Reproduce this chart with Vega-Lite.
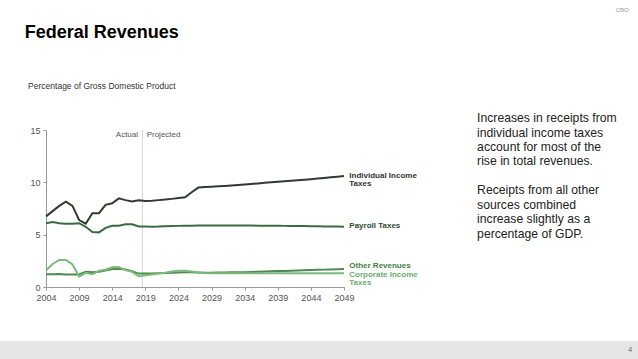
{
  "$schema": "https://vega.github.io/schema/vega-lite/v6.json",
  "width": 298,
  "height": 157,
  "autosize": {"type": "none"},
  "padding": {"left": 46, "top": 130, "right": 294, "bottom": 72},
  "background": "white",
  "config": {
    "view": {"stroke": null},
    "font": "Liberation Sans",
    "axisX": {"labelOverlap": false, "labelFlush": false},
    "axis": {"grid": false}
  },
  "datasets": {
    "rev": [
      {"year": 2004, "series": "Individual Income Taxes", "value": 6.75},
      {"year": 2005, "series": "Individual Income Taxes", "value": 7.25},
      {"year": 2006, "series": "Individual Income Taxes", "value": 7.75},
      {"year": 2007, "series": "Individual Income Taxes", "value": 8.15},
      {"year": 2008, "series": "Individual Income Taxes", "value": 7.75},
      {"year": 2009, "series": "Individual Income Taxes", "value": 6.4},
      {"year": 2010, "series": "Individual Income Taxes", "value": 6.05},
      {"year": 2011, "series": "Individual Income Taxes", "value": 7.05},
      {"year": 2012, "series": "Individual Income Taxes", "value": 7.05},
      {"year": 2013, "series": "Individual Income Taxes", "value": 7.85},
      {"year": 2014, "series": "Individual Income Taxes", "value": 8.0},
      {"year": 2015, "series": "Individual Income Taxes", "value": 8.47},
      {"year": 2016, "series": "Individual Income Taxes", "value": 8.3},
      {"year": 2017, "series": "Individual Income Taxes", "value": 8.18},
      {"year": 2018, "series": "Individual Income Taxes", "value": 8.28},
      {"year": 2019, "series": "Individual Income Taxes", "value": 8.22},
      {"year": 2020, "series": "Individual Income Taxes", "value": 8.25},
      {"year": 2021, "series": "Individual Income Taxes", "value": 8.3},
      {"year": 2022, "series": "Individual Income Taxes", "value": 8.35},
      {"year": 2023, "series": "Individual Income Taxes", "value": 8.42},
      {"year": 2024, "series": "Individual Income Taxes", "value": 8.5},
      {"year": 2025, "series": "Individual Income Taxes", "value": 8.57},
      {"year": 2026, "series": "Individual Income Taxes", "value": 9.05},
      {"year": 2027, "series": "Individual Income Taxes", "value": 9.5},
      {"year": 2028, "series": "Individual Income Taxes", "value": 9.55},
      {"year": 2029, "series": "Individual Income Taxes", "value": 9.58},
      {"year": 2030, "series": "Individual Income Taxes", "value": 9.62},
      {"year": 2031, "series": "Individual Income Taxes", "value": 9.66},
      {"year": 2032, "series": "Individual Income Taxes", "value": 9.7},
      {"year": 2033, "series": "Individual Income Taxes", "value": 9.75},
      {"year": 2034, "series": "Individual Income Taxes", "value": 9.8},
      {"year": 2035, "series": "Individual Income Taxes", "value": 9.85},
      {"year": 2036, "series": "Individual Income Taxes", "value": 9.9},
      {"year": 2037, "series": "Individual Income Taxes", "value": 9.95},
      {"year": 2038, "series": "Individual Income Taxes", "value": 10.0},
      {"year": 2039, "series": "Individual Income Taxes", "value": 10.05},
      {"year": 2040, "series": "Individual Income Taxes", "value": 10.1},
      {"year": 2041, "series": "Individual Income Taxes", "value": 10.15},
      {"year": 2042, "series": "Individual Income Taxes", "value": 10.2},
      {"year": 2043, "series": "Individual Income Taxes", "value": 10.25},
      {"year": 2044, "series": "Individual Income Taxes", "value": 10.3},
      {"year": 2045, "series": "Individual Income Taxes", "value": 10.36},
      {"year": 2046, "series": "Individual Income Taxes", "value": 10.42},
      {"year": 2047, "series": "Individual Income Taxes", "value": 10.48},
      {"year": 2048, "series": "Individual Income Taxes", "value": 10.54},
      {"year": 2049, "series": "Individual Income Taxes", "value": 10.6},

      {"year": 2004, "series": "Payroll Taxes", "value": 6.1},
      {"year": 2005, "series": "Payroll Taxes", "value": 6.2},
      {"year": 2006, "series": "Payroll Taxes", "value": 6.1},
      {"year": 2007, "series": "Payroll Taxes", "value": 6.05},
      {"year": 2008, "series": "Payroll Taxes", "value": 6.05},
      {"year": 2009, "series": "Payroll Taxes", "value": 6.1},
      {"year": 2010, "series": "Payroll Taxes", "value": 5.75},
      {"year": 2011, "series": "Payroll Taxes", "value": 5.25},
      {"year": 2012, "series": "Payroll Taxes", "value": 5.22},
      {"year": 2013, "series": "Payroll Taxes", "value": 5.65},
      {"year": 2014, "series": "Payroll Taxes", "value": 5.85},
      {"year": 2015, "series": "Payroll Taxes", "value": 5.85},
      {"year": 2016, "series": "Payroll Taxes", "value": 6.0},
      {"year": 2017, "series": "Payroll Taxes", "value": 6.0},
      {"year": 2018, "series": "Payroll Taxes", "value": 5.78},
      {"year": 2019, "series": "Payroll Taxes", "value": 5.77},
      {"year": 2020, "series": "Payroll Taxes", "value": 5.76},
      {"year": 2021, "series": "Payroll Taxes", "value": 5.77},
      {"year": 2022, "series": "Payroll Taxes", "value": 5.8},
      {"year": 2023, "series": "Payroll Taxes", "value": 5.82},
      {"year": 2024, "series": "Payroll Taxes", "value": 5.84},
      {"year": 2025, "series": "Payroll Taxes", "value": 5.85},
      {"year": 2026, "series": "Payroll Taxes", "value": 5.86},
      {"year": 2027, "series": "Payroll Taxes", "value": 5.87},
      {"year": 2028, "series": "Payroll Taxes", "value": 5.87},
      {"year": 2029, "series": "Payroll Taxes", "value": 5.88},
      {"year": 2030, "series": "Payroll Taxes", "value": 5.88},
      {"year": 2031, "series": "Payroll Taxes", "value": 5.88},
      {"year": 2032, "series": "Payroll Taxes", "value": 5.88},
      {"year": 2033, "series": "Payroll Taxes", "value": 5.88},
      {"year": 2034, "series": "Payroll Taxes", "value": 5.87},
      {"year": 2035, "series": "Payroll Taxes", "value": 5.87},
      {"year": 2036, "series": "Payroll Taxes", "value": 5.86},
      {"year": 2037, "series": "Payroll Taxes", "value": 5.86},
      {"year": 2038, "series": "Payroll Taxes", "value": 5.85},
      {"year": 2039, "series": "Payroll Taxes", "value": 5.85},
      {"year": 2040, "series": "Payroll Taxes", "value": 5.84},
      {"year": 2041, "series": "Payroll Taxes", "value": 5.83},
      {"year": 2042, "series": "Payroll Taxes", "value": 5.83},
      {"year": 2043, "series": "Payroll Taxes", "value": 5.82},
      {"year": 2044, "series": "Payroll Taxes", "value": 5.81},
      {"year": 2045, "series": "Payroll Taxes", "value": 5.8},
      {"year": 2046, "series": "Payroll Taxes", "value": 5.79},
      {"year": 2047, "series": "Payroll Taxes", "value": 5.78},
      {"year": 2048, "series": "Payroll Taxes", "value": 5.77},
      {"year": 2049, "series": "Payroll Taxes", "value": 5.76},

      {"year": 2004, "series": "Other Revenues", "value": 1.22},
      {"year": 2005, "series": "Other Revenues", "value": 1.22},
      {"year": 2006, "series": "Other Revenues", "value": 1.25},
      {"year": 2007, "series": "Other Revenues", "value": 1.2},
      {"year": 2008, "series": "Other Revenues", "value": 1.2},
      {"year": 2009, "series": "Other Revenues", "value": 1.2},
      {"year": 2010, "series": "Other Revenues", "value": 1.45},
      {"year": 2011, "series": "Other Revenues", "value": 1.4},
      {"year": 2012, "series": "Other Revenues", "value": 1.45},
      {"year": 2013, "series": "Other Revenues", "value": 1.58},
      {"year": 2014, "series": "Other Revenues", "value": 1.72},
      {"year": 2015, "series": "Other Revenues", "value": 1.75},
      {"year": 2016, "series": "Other Revenues", "value": 1.68},
      {"year": 2017, "series": "Other Revenues", "value": 1.5},
      {"year": 2018, "series": "Other Revenues", "value": 1.28},
      {"year": 2019, "series": "Other Revenues", "value": 1.3},
      {"year": 2020, "series": "Other Revenues", "value": 1.3},
      {"year": 2021, "series": "Other Revenues", "value": 1.32},
      {"year": 2022, "series": "Other Revenues", "value": 1.33},
      {"year": 2023, "series": "Other Revenues", "value": 1.35},
      {"year": 2024, "series": "Other Revenues", "value": 1.38},
      {"year": 2025, "series": "Other Revenues", "value": 1.4},
      {"year": 2026, "series": "Other Revenues", "value": 1.4},
      {"year": 2027, "series": "Other Revenues", "value": 1.38},
      {"year": 2028, "series": "Other Revenues", "value": 1.37},
      {"year": 2029, "series": "Other Revenues", "value": 1.37},
      {"year": 2030, "series": "Other Revenues", "value": 1.38},
      {"year": 2031, "series": "Other Revenues", "value": 1.39},
      {"year": 2032, "series": "Other Revenues", "value": 1.4},
      {"year": 2033, "series": "Other Revenues", "value": 1.41},
      {"year": 2034, "series": "Other Revenues", "value": 1.42},
      {"year": 2035, "series": "Other Revenues", "value": 1.44},
      {"year": 2036, "series": "Other Revenues", "value": 1.46},
      {"year": 2037, "series": "Other Revenues", "value": 1.48},
      {"year": 2038, "series": "Other Revenues", "value": 1.5},
      {"year": 2039, "series": "Other Revenues", "value": 1.52},
      {"year": 2040, "series": "Other Revenues", "value": 1.54},
      {"year": 2041, "series": "Other Revenues", "value": 1.56},
      {"year": 2042, "series": "Other Revenues", "value": 1.58},
      {"year": 2043, "series": "Other Revenues", "value": 1.6},
      {"year": 2044, "series": "Other Revenues", "value": 1.62},
      {"year": 2045, "series": "Other Revenues", "value": 1.64},
      {"year": 2046, "series": "Other Revenues", "value": 1.66},
      {"year": 2047, "series": "Other Revenues", "value": 1.68},
      {"year": 2048, "series": "Other Revenues", "value": 1.7},
      {"year": 2049, "series": "Other Revenues", "value": 1.72},

      {"year": 2004, "series": "Corporate Income Taxes", "value": 1.6},
      {"year": 2005, "series": "Corporate Income Taxes", "value": 2.2},
      {"year": 2006, "series": "Corporate Income Taxes", "value": 2.58},
      {"year": 2007, "series": "Corporate Income Taxes", "value": 2.58},
      {"year": 2008, "series": "Corporate Income Taxes", "value": 2.15},
      {"year": 2009, "series": "Corporate Income Taxes", "value": 1.0},
      {"year": 2010, "series": "Corporate Income Taxes", "value": 1.35},
      {"year": 2011, "series": "Corporate Income Taxes", "value": 1.22},
      {"year": 2012, "series": "Corporate Income Taxes", "value": 1.55},
      {"year": 2013, "series": "Corporate Income Taxes", "value": 1.65},
      {"year": 2014, "series": "Corporate Income Taxes", "value": 1.88},
      {"year": 2015, "series": "Corporate Income Taxes", "value": 1.9},
      {"year": 2016, "series": "Corporate Income Taxes", "value": 1.62},
      {"year": 2017, "series": "Corporate Income Taxes", "value": 1.45},
      {"year": 2018, "series": "Corporate Income Taxes", "value": 1.02},
      {"year": 2019, "series": "Corporate Income Taxes", "value": 1.12},
      {"year": 2020, "series": "Corporate Income Taxes", "value": 1.2},
      {"year": 2021, "series": "Corporate Income Taxes", "value": 1.28},
      {"year": 2022, "series": "Corporate Income Taxes", "value": 1.36},
      {"year": 2023, "series": "Corporate Income Taxes", "value": 1.48},
      {"year": 2024, "series": "Corporate Income Taxes", "value": 1.55},
      {"year": 2025, "series": "Corporate Income Taxes", "value": 1.55},
      {"year": 2026, "series": "Corporate Income Taxes", "value": 1.48},
      {"year": 2027, "series": "Corporate Income Taxes", "value": 1.38},
      {"year": 2028, "series": "Corporate Income Taxes", "value": 1.33},
      {"year": 2029, "series": "Corporate Income Taxes", "value": 1.32},
      {"year": 2030, "series": "Corporate Income Taxes", "value": 1.32},
      {"year": 2031, "series": "Corporate Income Taxes", "value": 1.32},
      {"year": 2032, "series": "Corporate Income Taxes", "value": 1.32},
      {"year": 2033, "series": "Corporate Income Taxes", "value": 1.32},
      {"year": 2034, "series": "Corporate Income Taxes", "value": 1.32},
      {"year": 2035, "series": "Corporate Income Taxes", "value": 1.32},
      {"year": 2036, "series": "Corporate Income Taxes", "value": 1.32},
      {"year": 2037, "series": "Corporate Income Taxes", "value": 1.32},
      {"year": 2038, "series": "Corporate Income Taxes", "value": 1.32},
      {"year": 2039, "series": "Corporate Income Taxes", "value": 1.32},
      {"year": 2040, "series": "Corporate Income Taxes", "value": 1.32},
      {"year": 2041, "series": "Corporate Income Taxes", "value": 1.32},
      {"year": 2042, "series": "Corporate Income Taxes", "value": 1.32},
      {"year": 2043, "series": "Corporate Income Taxes", "value": 1.32},
      {"year": 2044, "series": "Corporate Income Taxes", "value": 1.32},
      {"year": 2045, "series": "Corporate Income Taxes", "value": 1.32},
      {"year": 2046, "series": "Corporate Income Taxes", "value": 1.32},
      {"year": 2047, "series": "Corporate Income Taxes", "value": 1.32},
      {"year": 2048, "series": "Corporate Income Taxes", "value": 1.32},
      {"year": 2049, "series": "Corporate Income Taxes", "value": 1.32}
    ]
  },
  "layer": [
    {
      "data": {"values": [{}]},
      "mark": {"type": "rule", "color": "#c0c0c0", "strokeWidth": 0.7},
      "encoding": {
        "x": {"datum": 2018.55, "type": "quantitative", "scale": {"domain": [2004, 2049], "nice": false, "zero": false}},
        "y": {"datum": 0, "type": "quantitative", "scale": {"domain": [0, 15], "nice": false}},
        "y2": {"datum": 15}
      }
    },
    {
      "data": {"name": "rev"},
      "mark": {"type": "line", "strokeWidth": 2, "clip": false},
      "encoding": {
        "x": {
          "field": "year", "type": "quantitative",
          "scale": {"domain": [2004, 2049], "nice": false, "zero": false},
          "axis": {
            "title": null, "values": [2004, 2009, 2014, 2019, 2024, 2029, 2034, 2039, 2044, 2049],
            "tickCount": 20,
            "format": "d", "grid": false, "domainColor": "#999999", "tickColor": "#999999",
            "tickSize": 3, "labelColor": "#555555", "labelFontSize": 9,
            "labelFont": "Liberation Sans Narrow, Liberation Sans", "labelPadding": 3,
            "labelFlush": false, "labelOverlap": false
          }
        },
        "y": {
          "field": "value", "type": "quantitative",
          "scale": {"domain": [0, 15], "nice": false},
          "axis": {
            "title": null, "values": [0, 5, 10, 15], "tickCount": 10, "grid": false,
            "domainColor": "#999999", "tickColor": "#999999", "tickSize": 3,
            "labelColor": "#555555", "labelFontSize": 9,
            "labelFont": "Liberation Sans Narrow, Liberation Sans", "labelPadding": 3
          }
        },
        "color": {
          "field": "series", "type": "nominal", "legend": null,
          "scale": {
            "domain": ["Individual Income Taxes", "Payroll Taxes", "Other Revenues", "Corporate Income Taxes"],
            "range": ["#2f3a31", "#3c6a40", "#4e8a4f", "#7cba7b"]
          }
        },
        "order": {"field": "series"}
      }
    },
    {
      "data": {"values": [{}]},
      "mark": {"type": "rect", "color": "#e5e5e5", "clip": false},
      "encoding": {
        "x": {"datum": 1996, "type": "quantitative"},
        "x2": {"datum": 2095},
        "y": {"datum": -5.16, "type": "quantitative"},
        "y2": {"datum": -7.2}
      }
    },
    {
      "data": {"values": [{}]},
      "mark": {"type": "text", "align": "left", "baseline": "middle", "fontSize": 18, "fontWeight": "bold", "color": "#000000", "font": "Liberation Sans"},
      "encoding": {"x": {"datum": 2000.8, "type": "quantitative"}, "y": {"datum": 24.25, "type": "quantitative"}, "text": {"value": "Federal Revenues"}}
    },
    {
      "data": {"values": [{}]},
      "mark": {"type": "text", "align": "left", "baseline": "middle", "fontSize": 8.5, "color": "#333333", "font": "Liberation Sans Narrow, Liberation Sans"},
      "encoding": {"x": {"datum": 2001.3, "type": "quantitative"}, "y": {"datum": 19.2, "type": "quantitative"}, "text": {"value": "Percentage of Gross Domestic Product"}}
    },
    {
      "data": {"values": [{}]},
      "mark": {"type": "text", "align": "right", "baseline": "middle", "fontSize": 8, "color": "#555555", "font": "Liberation Sans Narrow, Liberation Sans"},
      "encoding": {"x": {"datum": 2017.9, "type": "quantitative"}, "y": {"datum": 14.55, "type": "quantitative"}, "text": {"value": "Actual"}}
    },
    {
      "data": {"values": [{}]},
      "mark": {"type": "text", "align": "left", "baseline": "middle", "fontSize": 8, "color": "#555555", "font": "Liberation Sans Narrow, Liberation Sans"},
      "encoding": {"x": {"datum": 2019.2, "type": "quantitative"}, "y": {"datum": 14.55, "type": "quantitative"}, "text": {"value": "Projected"}}
    },
    {
      "data": {"values": [{}]},
      "mark": {"type": "text", "align": "left", "baseline": "top", "fontSize": 8, "fontWeight": "bold", "lineHeight": 8.5, "color": "#333333"},
      "encoding": {"x": {"datum": 2049.8, "type": "quantitative"}, "y": {"datum": 11.0, "type": "quantitative"}, "text": {"value": ["Individual Income", "Taxes"]}}
    },
    {
      "data": {"values": [{}]},
      "mark": {"type": "text", "align": "left", "baseline": "middle", "fontSize": 8, "fontWeight": "bold", "color": "#2f4a33"},
      "encoding": {"x": {"datum": 2049.8, "type": "quantitative"}, "y": {"datum": 5.83, "type": "quantitative"}, "text": {"value": "Payroll Taxes"}}
    },
    {
      "data": {"values": [{}]},
      "mark": {"type": "text", "align": "left", "baseline": "middle", "fontSize": 8, "fontWeight": "bold", "color": "#3f7f42"},
      "encoding": {"x": {"datum": 2049.8, "type": "quantitative"}, "y": {"datum": 2.04, "type": "quantitative"}, "text": {"value": "Other Revenues"}}
    },
    {
      "data": {"values": [{}]},
      "mark": {"type": "text", "align": "left", "baseline": "top", "fontSize": 8, "fontWeight": "bold", "lineHeight": 8.4, "color": "#6eac6e"},
      "encoding": {"x": {"datum": 2049.8, "type": "quantitative"}, "y": {"datum": 1.53, "type": "quantitative"}, "text": {"value": ["Corporate Income", "Taxes"]}}
    },
    {
      "data": {"values": [{}]},
      "mark": {"type": "text", "align": "left", "baseline": "top", "fontSize": 12.2, "lineHeight": 14.4, "color": "#222222", "font": "Liberation Sans"},
      "encoding": {
        "x": {"datum": 2069.1, "type": "quantitative"},
        "y": {"datum": 16.7, "type": "quantitative"},
        "text": {"value": ["Increases in receipts from", "individual income taxes", "account for most of the", "rise in total revenues."]}
      }
    },
    {
      "data": {"values": [{}]},
      "mark": {"type": "text", "align": "left", "baseline": "top", "fontSize": 12.2, "lineHeight": 14.4, "color": "#222222", "font": "Liberation Sans"},
      "encoding": {
        "x": {"datum": 2069.1, "type": "quantitative"},
        "y": {"datum": 9.8, "type": "quantitative"},
        "text": {"value": ["Receipts from all other", "sources combined", "increase slightly as a", "percentage of GDP."]}
      }
    },
    {
      "data": {"values": [{}]},
      "mark": {"type": "text", "align": "center", "baseline": "middle", "fontSize": 6, "color": "#999999"},
      "encoding": {"x": {"datum": 2091, "type": "quantitative"}, "y": {"datum": 26.5, "type": "quantitative"}, "text": {"value": "CBO"}}
    },
    {
      "data": {"values": [{}]},
      "mark": {"type": "text", "align": "center", "baseline": "middle", "fontSize": 7, "color": "#666666"},
      "encoding": {"x": {"datum": 2092.2, "type": "quantitative"}, "y": {"datum": -6.02, "type": "quantitative"}, "text": {"value": "4"}}
    }
  ]
}
